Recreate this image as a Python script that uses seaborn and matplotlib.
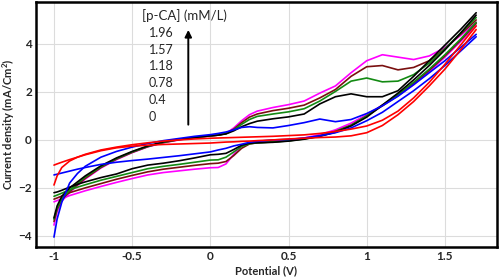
import numpy as np
import pandas as pd
import matplotlib
matplotlib.use("Agg")
import matplotlib.pyplot as plt
import seaborn as sns

# potential grid (V) for the anodic sweep; the cathodic sweep runs back over it
potential = [-1.0, -0.98, -0.95, -0.9, -0.85, -0.8, -0.7, -0.6, -0.5, -0.4, -0.3,
             -0.2, -0.1, 0.0, 0.05, 0.1, 0.15, 0.2, 0.25, 0.3, 0.4, 0.5, 0.6,
             0.7, 0.8, 0.9, 1.0, 1.1, 1.2, 1.3, 1.4, 1.5, 1.6, 1.7]

concentrations = ["0", "0.4", "0.78", "1.18", "1.57", "1.96"]
colors = ["#ff0000", "#0000ff", "#000000", "#138a13", "#7a1010", "#ff00ff"]

# current density (mA/cm2), forward sweep, same order as potential
fwd_0 = [-1.88, -1.5, -1.15, -0.88, -0.72, -0.6, -0.42, -0.3, -0.2, -0.12, -0.05,
         0.0, 0.04, 0.07, 0.08, 0.09, 0.1, 0.11, 0.12, 0.13, 0.15, 0.18, 0.21,
         0.27, 0.35, 0.45, 0.58, 0.82, 1.2, 1.75, 2.4, 3.15, 3.95, 4.75]
fwd_04 = [-4.05, -3.3, -2.6, -1.8, -1.4, -1.1, -0.72, -0.48, -0.3, -0.15, -0.03,
          0.06, 0.15, 0.22, 0.27, 0.33, 0.42, 0.52, 0.55, 0.52, 0.5, 0.6, 0.72,
          0.87, 0.76, 0.85, 1.1, 1.42, 1.82, 2.3, 2.8, 3.3, 3.85, 4.4]
fwd_078 = [-3.25, -2.75, -2.35, -2.0, -1.75, -1.5, -1.08, -0.75, -0.48, -0.25, -0.08,
           0.03, 0.1, 0.17, 0.2, 0.25, 0.38, 0.55, 0.68, 0.78, 0.88, 0.96, 1.08,
           1.5, 1.8, 1.92, 1.8, 1.8, 2.05, 2.65, 3.3, 3.95, 4.6, 5.3]
fwd_118 = [-3.3, -2.85, -2.45, -2.1, -1.82, -1.55, -1.12, -0.78, -0.5, -0.27, -0.1,
           0.02, 0.1, 0.17, 0.2, 0.26, 0.42, 0.65, 0.85, 0.98, 1.08, 1.17, 1.3,
           1.62, 2.02, 2.45, 2.58, 2.42, 2.45, 2.72, 3.2, 3.8, 4.45, 5.1]
fwd_157 = [-3.4, -2.9, -2.5, -2.15, -1.87, -1.6, -1.15, -0.8, -0.52, -0.28, -0.11,
           0.01, 0.1, 0.17, 0.2, 0.27, 0.45, 0.72, 0.95, 1.08, 1.22, 1.32, 1.45,
           1.75, 2.1, 2.65, 3.05, 3.1, 2.92, 3.02, 3.3, 3.8, 4.4, 5.0]
fwd_196 = [-3.55, -3.0, -2.55, -2.2, -1.9, -1.63, -1.17, -0.82, -0.53, -0.29, -0.12,
           0.0, 0.1, 0.17, 0.2, 0.27, 0.5, 0.8, 1.05, 1.2, 1.35, 1.47, 1.62,
           1.95, 2.25, 2.8, 3.3, 3.55, 3.45, 3.35, 3.5, 3.85, 4.35, 4.9]

# reverse sweep, also listed in the order of potential (low to high)
rev_0 = [-1.05, -1.0, -0.93, -0.82, -0.72, -0.62, -0.45, -0.33, -0.26, -0.22, -0.19,
         -0.17, -0.15, -0.13, -0.11, -0.09, -0.08, -0.06, -0.05, -0.03, 0.0, 0.04, 0.07,
         0.1, 0.12, 0.17, 0.3, 0.6, 1.05, 1.6, 2.25, 2.95, 3.75, 4.6]
rev_04 = [-1.46, -1.43, -1.38, -1.3, -1.22, -1.15, -1.02, -0.93, -0.86, -0.8, -0.73,
          -0.66, -0.58, -0.5, -0.42, -0.35, -0.25, -0.18, -0.1, -0.06, 0.0, 0.02, 0.08,
          0.17, 0.3, 0.5, 0.8, 1.15, 1.6, 2.05, 2.55, 3.1, 3.7, 4.3]
rev_078 = [-2.2, -2.17, -2.1, -1.97, -1.85, -1.75, -1.57, -1.42, -1.2, -1.05, -0.97,
           -0.87, -0.75, -0.62, -0.6, -0.56, -0.4, -0.22, -0.14, -0.12, -0.1, -0.05, 0.03,
           0.15, 0.32, 0.58, 0.95, 1.45, 1.95, 2.5, 3.1, 3.75, 4.45, 5.2]
rev_118 = [-2.35, -2.3, -2.22, -2.08, -1.97, -1.87, -1.68, -1.52, -1.36, -1.2, -1.1,
           -1.02, -0.93, -0.84, -0.83, -0.72, -0.5, -0.27, -0.16, -0.12, -0.09, -0.04, 0.04,
           0.16, 0.34, 0.6, 1.0, 1.45, 1.9, 2.4, 2.95, 3.55, 4.2, 4.9]
rev_157 = [-2.47, -2.42, -2.34, -2.2, -2.1, -2.0, -1.82, -1.64, -1.48, -1.33, -1.22,
           -1.14, -1.06, -0.99, -0.97, -0.9, -0.65, -0.35, -0.17, -0.12, -0.08, -0.03, 0.05,
           0.17, 0.36, 0.62, 1.0, 1.42, 1.85, 2.35, 2.9, 3.5, 4.15, 4.85]
rev_196 = [-2.58, -2.53, -2.45, -2.32, -2.22, -2.12, -1.94, -1.77, -1.61, -1.46, -1.36,
           -1.29, -1.22, -1.16, -1.15, -1.0, -0.6, -0.25, -0.14, -0.1, -0.06, 0.0, 0.08,
           0.22, 0.42, 0.7, 1.05, 1.45, 1.85, 2.3, 2.85, 3.45, 4.1, 4.75]

forward = [fwd_0, fwd_04, fwd_078, fwd_118, fwd_157, fwd_196]
reverse = [rev_0, rev_04, rev_078, rev_118, rev_157, rev_196]

rows = []
for conc, f, r in zip(concentrations, forward, reverse):
    for v, c in zip(potential, f):
        rows.append({"E": v, "j": c, "conc": conc, "branch": "fwd"})
    for v, c in zip(potential[::-1], r[::-1]):
        rows.append({"E": v, "j": c, "conc": conc, "branch": "rev"})
df = pd.DataFrame(rows)

sns.set_style("whitegrid", {"grid.color": "#dcdcdc", "axes.edgecolor": "black"})
plt.rcParams["font.family"] = ["Lato", "DejaVu Sans"]
plt.rcParams["mathtext.fontset"] = "custom"
plt.rcParams["mathtext.bf"] = "Lato:bold"
plt.rcParams["mathtext.rm"] = "Lato"

fig, ax = plt.subplots(figsize=(5, 2.79), dpi=100)
fig.subplots_adjust(left=0.072, right=0.993, bottom=0.115, top=0.993)

draw_order = ["1.96", "1.57", "1.18", "0.78", "0.4", "0"]
palette = dict(zip(concentrations, colors))
for conc in draw_order:
    sub = df[df["conc"] == conc]
    sns.lineplot(data=sub, x="E", y="j", units="branch", estimator=None, sort=False,
                 color=palette[conc], linewidth=1.2, ax=ax, legend=False)

ax.set_xlim(-1.115, 1.83)
ax.set_ylim(-4.46, 5.75)
ax.set_xticks([-1, -0.5, 0, 0.5, 1, 1.5])
ax.set_xticklabels(["-1", "-0.5", "0", "0.5", "1", "1.5"])
ax.set_yticks([-4, -2, 0, 2, 4])
ax.tick_params(labelsize=8.5, pad=3, length=0)
for lab in ax.get_xticklabels() + ax.get_yticklabels():
    lab.set_fontweight("bold")
for sp in ax.spines.values():
    sp.set_linewidth(1.8)
    sp.set_color("black")

ax.set_xlabel("Potential (V)", fontsize=8, fontweight="bold", labelpad=2)
ax.set_ylabel(r"Current density (mA/Cm$^{\mathbf{2}}$)", fontsize=8, fontweight="bold",
              va="center")
ax.yaxis.set_label_coords(-0.058, 0.5)

# concentration annotation with arrow
ax.text(-0.44, 5.17, "[p-CA] (mM/L)", fontsize=9.5, va="center", ha="left")
label_y = [4.46, 3.76, 3.06, 2.36, 1.66, 0.96]
for txt, yy in zip(draw_order, label_y):
    ax.text(-0.395, yy, txt, fontsize=9, va="center", ha="left")
ax.annotate("", xy=(-0.141, 4.7), xytext=(-0.141, 0.52),
            arrowprops=dict(arrowstyle="-|>,head_width=0.2,head_length=0.4",
                            color="black", lw=1.4))

fig.savefig("out.png", dpi=100)
